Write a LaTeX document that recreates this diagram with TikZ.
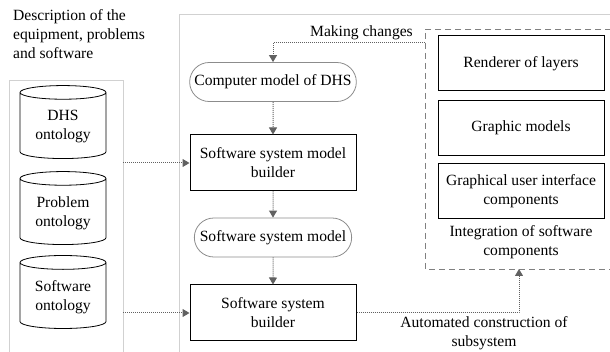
\documentclass[tikz,border=0pt]{standalone}
\usepackage{fontspec}
\setmainfont{Liberation Serif}
\usetikzlibrary{shapes.geometric,shapes.misc,arrows.meta}

\tikzset{
  frame/.style={draw=black!18, line width=0.9pt},
  onto/.style={cylinder, draw, shape border rotate=90, aspect=0.22,
    minimum width=86pt, minimum height=73pt, align=center, line width=0.8pt},
  builder/.style={draw, line width=1pt, minimum width=166pt,
    minimum height=56pt, align=center},
  model/.style={rounded rectangle, draw=black!45, line width=0.8pt,
    minimum width=164pt, minimum height=39pt},
  flow/.style={draw=black!62, densely dotted, line width=1pt,
    -{Triangle[length=7pt,width=8pt]}},
  note/.style={align=center, inner sep=0pt}
}

\begin{document}
\begin{tikzpicture}[x=1pt, y=-1pt,
  every node/.style={font=\fontsize{15.6pt}{19pt}\selectfont}]
  \useasboundingbox (0,0) rectangle (610,352);

  % Frames
  \draw[frame] (9,353) -- (9,80) -- (123,80) -- (123,353);
  \draw[frame] (179,353) -- (179,14) -- (611,14);
  \draw[draw=black!50, dash pattern=on 6pt off 4pt, line width=0.8pt]
    (611,29) -- (425,29) -- (425,269) -- (611,269);

  \node[note, anchor=north west, align=left] (descr) at (13,9)
    {Description of the\\equipment, problems\\and software};

  % Ontologies
  \node[onto] (dhs) at (63,127) {DHS\\ontology};
  \node[onto] (prob) at (63,213) {Problem\\ontology};
  \node[onto] (soft) at (63,297) {Software\\ontology};

  % Middle column
  \node[model] (dhsmodel) at (273,82) {Computer model of DHS};
  \node[builder] (mbuild) at (273,163) {Software system model\\builder};
  \node[model] (sysmodel) at (273,237.5) {Software system model};
  \node[builder] (sysbuild) at (273,313) {Software system\\builder};

  % Software components
  \node[builder, minimum height=55pt] (render) at (521,63.5) {Renderer of layers};
  \node[builder, minimum height=55pt] (graph) at (521,128) {Graphic models};
  \node[builder, minimum height=55pt] (gui) at (521,191) {Graphical user interface\\components};
  \node[note] (integtext) at (521,242) {Integration of software\\components};

  \node[note, anchor=east] (chgtext) at (413,33) {Making changes};
  \node[note] (autotext) at (484,333) {Automated construction of\\subsystem};

  \coordinate (lf1) at (123,163);
  \coordinate (lf2) at (123,313);
  \coordinate (chg) at (425,43);
  \coordinate (integ) at (519,269);

  % Draw edges
  \draw[flow] (lf1) -- (mbuild);
  \draw[flow] (lf2) -- (sysbuild);
  \draw[flow] (chg) -| (dhsmodel);
  \draw[flow] (dhsmodel) -- (mbuild);
  \draw[flow] (mbuild) -- (sysmodel);
  \draw[flow] (sysmodel) -- (sysbuild);
  \draw[flow] (sysbuild.east) -| (integ);
\end{tikzpicture}
\end{document}
